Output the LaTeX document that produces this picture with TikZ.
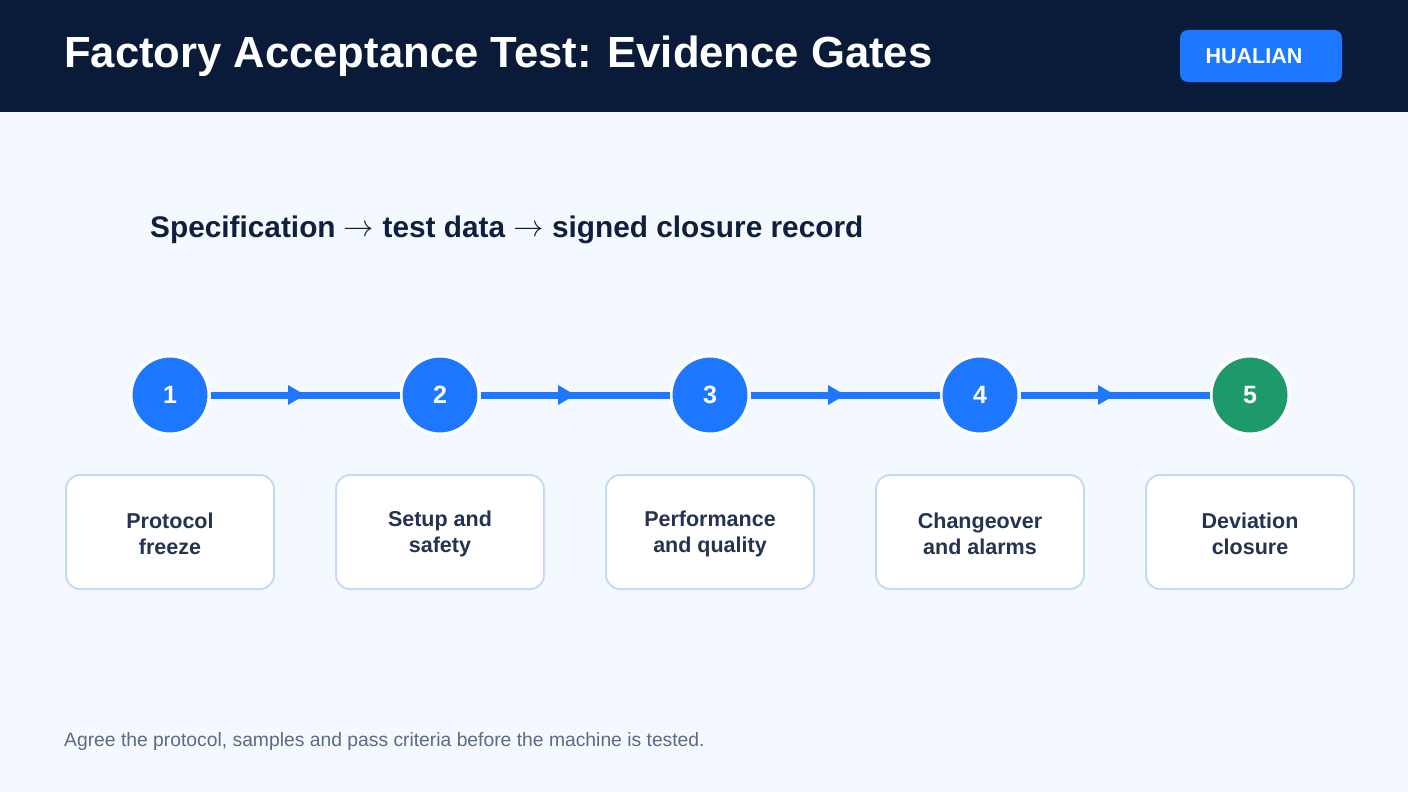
\documentclass[tikz,border=0pt]{standalone}
\usepackage{fontspec}
\setmainfont{Liberation Sans}
\usetikzlibrary{arrows.meta,decorations.markings}
\definecolor{navy}{HTML}{0A1B3A}
\definecolor{bg}{HTML}{F4F8FF}
\definecolor{blue}{HTML}{1E78FF}
\definecolor{green}{HTML}{1E9A6A}
\definecolor{boxline}{HTML}{C5DAF7}
\definecolor{boxtext}{HTML}{24334F}
\definecolor{subt}{HTML}{0F1F3D}
\definecolor{foot}{HTML}{5A6B82}
\newcommand{\sarr}{\raisebox{1.5pt}{\scalebox{1.22}{$\rightarrow$}}}
\tikzset{
  stepcircle/.style={circle,fill=blue,draw=white,line width=3pt,minimum size=78pt,inner sep=0pt,text=white,font=\fontsize{25}{28}\selectfont\bfseries},
  stepbox/.style={rounded corners=14pt,fill=white,draw=boxline,line width=2pt,minimum width=208pt,minimum height=114pt},
  steptext/.style={align=center,text=boxtext,inner sep=0pt,font=\fontsize{21.5}{26}\selectfont\bfseries},
  flow/.style={draw=blue,line width=7pt,postaction={decorate},decoration={markings,mark=at position 0.5 with {\fill[blue] (0pt,0)--(-17pt,10pt)--(-17pt,-10pt)--cycle;}}}
}
\begin{document}
\begin{tikzpicture}[x=1pt,y=-1pt]
\useasboundingbox (0,0) rectangle (1408,792);
\fill[bg] (0,0) rectangle (1408,792);
\fill[navy] (0,0) rectangle (1408,112);
\node[anchor=west,text=white,font=\fontsize{43.6}{50}\selectfont\bfseries,inner sep=0pt] (title) at (64,56) {Factory Acceptance Test: Evidence Gates};
\node[fill=blue,rounded corners=8pt,minimum width=162pt,minimum height=52pt,inner sep=0pt] (badge) at (1261,56) {};
\node[text=white,font=\fontsize{21.5}{24}\selectfont\bfseries,inner sep=0pt] (badgetxt) at (1254,56) {HUALIAN};
\node[anchor=west,text=subt,font=\fontsize{29.8}{34}\selectfont\bfseries,inner sep=0pt] (sub) at (150,230) {Specification \sarr{} test data \sarr{} signed closure record};
\foreach \i/\x in {1/170,2/440,3/710,4/980} {
  \node[stepcircle] (c\i) at (\x,395) {\i};
}
\node[stepcircle,fill=green] (c5) at (1250,395) {5};
\foreach \a/\b in {1/2,2/3,3/4,4/5} {
  \path[flow] (c\a.east) -- (c\b.west);
}
\foreach \i/\x/\t in {1/170/{Protocol\\freeze},2/440/{Setup and\\safety},3/710/{Performance\\and quality},4/980/{Changeover\\and alarms},5/1250/{Deviation\\closure}} {
  \node[stepbox] (b\i) at (\x,532) {};
  \node[steptext] (t\i) at (\x,534) {\t};
}
\node[anchor=west,text=foot,font=\fontsize{19.3}{22}\selectfont,inner sep=0pt] (foot) at (64,742) {Agree the protocol, samples and pass criteria before the machine is tested.};
\end{tikzpicture}
\end{document}
